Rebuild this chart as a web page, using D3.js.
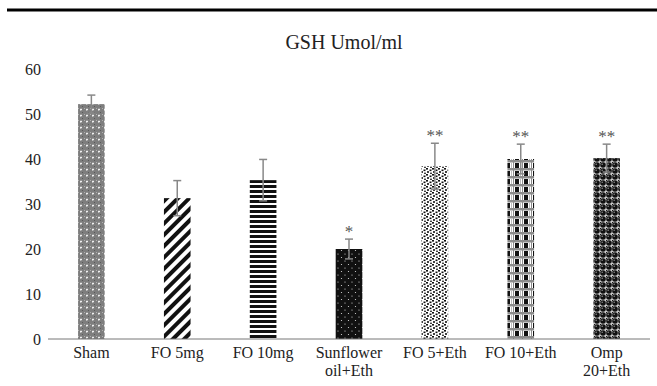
<!DOCTYPE html>
<html>
<head>
<meta charset="utf-8">
<script src="https://cdn.jsdelivr.net/npm/d3@7"></script>
<style>
body { margin: 0; background: #fff; }
svg { display: block; font-family: "Liberation Serif", "DejaVu Serif", serif; }
</style>
</head>
<body>
<div id="chart"></div>
<script>
const groups = ["Sham", "FO 5mg", "FO 10mg", "Sunflower oil+Eth", "FO 5+Eth", "FO 10+Eth", "Omp 20+Eth"]
const labelLines = [["Sham"], ["FO 5mg"], ["FO 10mg"], ["Sunflower", "oil+Eth"], ["FO 5+Eth"], ["FO 10+Eth"], ["Omp", "20+Eth"]]
const means = [52.2, 31.3, 35.3, 20.0, 38.4, 40.0, 40.2]
const errs = [2.0, 3.9, 4.6, 2.2, 5.1, 3.3, 3.1]
const marks = ["", "", "", "*", "**", "**", "**"]
const yTicks = [0, 10, 20, 30, 40, 50, 60]

const width = 657, height = 386
const margin = {top: 69, right: 7, bottom: 47, left: 48}

const svg = d3.select("#chart").append("svg")
  .attr("width", width)
  .attr("height", height)

// patterns
const defs = svg.append("defs")
function pat(id, w, h) {
  return defs.append("pattern").attr("id", id).attr("patternUnits", "userSpaceOnUse")
    .attr("width", w).attr("height", h)
}
// Sham: grey mesh with white plus marks
let p = pat("p0", 6, 6)
p.append("rect").attr("width", 6).attr("height", 6).attr("fill", "#7e7e7e")
p.append("rect").attr("x", 0).attr("y", 0).attr("width", 1).attr("height", 1).attr("fill", "#b0b0b0")
p.append("rect").attr("x", 2).attr("y", 2).attr("width", 1).attr("height", 1).attr("fill", "#b0b0b0")
p.append("rect").attr("x", 4).attr("y", 4).attr("width", 1).attr("height", 1).attr("fill", "#5a5a5a")
p.append("path").attr("d", "M3,0.5V2.5M2,1.5H4").attr("stroke", "#fff").attr("stroke-width", 0.8)
// FO 5mg: diagonal stripes
p = pat("p1", 8, 8).attr("patternTransform", "rotate(45)")
p.append("rect").attr("width", 8).attr("height", 8).attr("fill", "#fff")
p.append("rect").attr("x", 0).attr("width", 4).attr("height", 8).attr("fill", "#111")
// FO 10mg: horizontal stripes
p = pat("p2", 6, 5)
p.append("rect").attr("width", 6).attr("height", 5).attr("fill", "#fff")
p.append("rect").attr("y", 0).attr("width", 6).attr("height", 3).attr("fill", "#111")
// Sunflower: black with white dots
p = pat("p3", 7, 7)
p.append("rect").attr("width", 7).attr("height", 7).attr("fill", "#111")
p.append("circle").attr("cx", 2).attr("cy", 2).attr("r", 0.6).attr("fill", "#ddd")
p.append("circle").attr("cx", 5.5).attr("cy", 5.5).attr("r", 0.6).attr("fill", "#ddd")
// FO 5+Eth: white with black dots
p = pat("p4", 6, 6)
p.append("rect").attr("width", 6).attr("height", 6).attr("fill", "#fff")
p.append("rect").attr("x", 0).attr("y", 0).attr("width", 2).attr("height", 1.6).attr("fill", "#111")
p.append("rect").attr("x", 3.5).attr("y", 1.5).attr("width", 2).attr("height", 1.6).attr("fill", "#111")
p.append("rect").attr("x", 1).attr("y", 3.2).attr("width", 2).attr("height", 1.6).attr("fill", "#111")
p.append("rect").attr("x", 4.2).attr("y", 4.6).attr("width", 1.6).attr("height", 1.4).attr("fill", "#111")
// FO 10+Eth: black squares in a grey grid
p = pat("p5", 9, 8)
p.append("rect").attr("width", 9).attr("height", 8).attr("fill", "#fff")
p.append("rect").attr("x", 2).attr("y", 3).attr("width", 4).attr("height", 5).attr("fill", "#111")
p.append("rect").attr("y", 0).attr("width", 9).attr("height", 2.5).attr("fill", "#8c8c8c")
p.append("rect").attr("x", 0).attr("width", 1).attr("height", 8).attr("fill", "#8c8c8c")
p.append("rect").attr("x", 7).attr("y", 3).attr("width", 1).attr("height", 5).attr("fill", "#bbb")
// Omp: black spheres
p = pat("p6", 6, 6)
p.append("rect").attr("width", 6).attr("height", 6).attr("fill", "#ccc")
p.append("circle").attr("cx", 3).attr("cy", 3).attr("r", 2.8).attr("fill", "#111")
p.append("circle").attr("cx", 0).attr("cy", 0).attr("r", 1.2).attr("fill", "#111")
p.append("circle").attr("cx", 2.2).attr("cy", 2.2).attr("r", 0.8).attr("fill", "#888")

// top rule
svg.append("line")
  .attr("x1", 7).attr("x2", width).attr("y1", 10).attr("y2", 10)
  .attr("stroke", "#000").attr("stroke-width", 3)

svg.append("text")
  .attr("x", 344).attr("y", 49)
  .attr("text-anchor", "middle")
  .attr("font-size", 20)
  .attr("fill", "#222")
  .text("GSH Umol/ml")

let x = d3.scaleBand().domain(groups).range([margin.left, width - margin.right]).paddingInner(0.69).paddingOuter(0.35)
let y = d3.scaleLinear().domain([0, 60]).range([height - margin.bottom, margin.top])

// y axis labels only
let yaxis = svg.append("g")
  .attr("transform", "translate(" + margin.left + ",0)")
  .call(d3.axisLeft(y).tickValues(yTicks).tickSize(0).tickPadding(7))
yaxis.select(".domain").remove()
yaxis.selectAll("text").attr("font-size", 16).attr("font-family", "Liberation Serif").attr("fill", "#222")

svg.selectAll(".bar")
  .data(groups)
  .enter().append("rect")
  .attr("class", "bar")
  .attr("x", d => x(d))
  .attr("width", x.bandwidth())
  .attr("y", (d, i) => y(means[i]))
  .attr("height", (d, i) => y(0) - y(means[i]))
  .attr("fill", (d, i) => "url(#p" + i + ")")

// baseline
svg.append("line")
  .attr("x1", margin.left).attr("x2", width - margin.right)
  .attr("y1", y(0)).attr("y2", y(0))
  .attr("stroke", "#777").attr("stroke-width", 1)

// error bars
let eb = svg.selectAll(".err")
  .data(groups)
  .enter().append("g")
  .attr("class", "err")
  .attr("stroke", "#888").attr("stroke-width", 1.5)
eb.append("line")
  .attr("x1", d => x(d) + x.bandwidth() / 2).attr("x2", d => x(d) + x.bandwidth() / 2)
  .attr("y1", (d, i) => y(means[i] - errs[i])).attr("y2", (d, i) => y(means[i] + errs[i]))
eb.append("line")
  .attr("x1", d => x(d) + x.bandwidth() / 2 - 4).attr("x2", d => x(d) + x.bandwidth() / 2 + 4)
  .attr("y1", (d, i) => y(means[i] + errs[i])).attr("y2", (d, i) => y(means[i] + errs[i]))
eb.append("line")
  .attr("x1", d => x(d) + x.bandwidth() / 2 - 4).attr("x2", d => x(d) + x.bandwidth() / 2 + 4)
  .attr("y1", (d, i) => y(means[i] - errs[i])).attr("y2", (d, i) => y(means[i] - errs[i]))

// significance marks
svg.selectAll(".sig")
  .data(groups)
  .enter().append("text")
  .attr("class", "sig")
  .attr("x", d => x(d) + x.bandwidth() / 2)
  .attr("y", (d, i) => y(means[i] + errs[i]) - 2)
  .attr("text-anchor", "middle")
  .attr("font-size", 17)
  .attr("fill", "#555")
  .text((d, i) => marks[i])

// category labels
let cl = svg.selectAll(".cat")
  .data(groups)
  .enter().append("text")
  .attr("class", "cat")
  .attr("x", d => x(d) + x.bandwidth() / 2)
  .attr("y", y(0) + 19)
  .attr("text-anchor", "middle")
  .attr("font-size", 16)
  .attr("fill", "#222")
cl.selectAll("tspan")
  .data((d, i) => labelLines[i])
  .enter().append("tspan")
  .attr("x", function() { return this.parentNode.getAttribute("x") })
  .attr("dy", (d, j) => j === 0 ? 0 : 18)
  .text(d => d)
</script>
</body>
</html>
